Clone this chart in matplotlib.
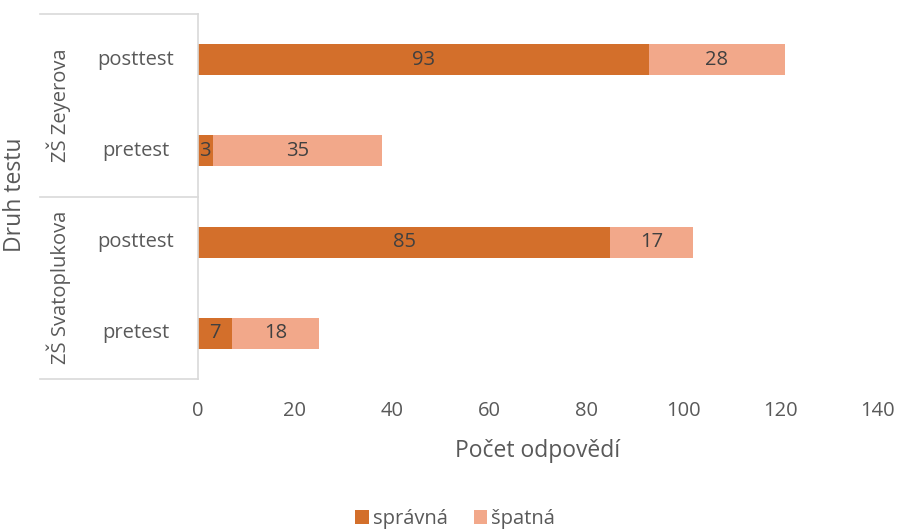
import matplotlib
matplotlib.use("Agg")
import matplotlib.pyplot as plt
import matplotlib.transforms as mtransforms
from matplotlib.lines import Line2D

plt.rcParams['font.family'] = ['Open Sans', 'DejaVu Sans']

groups = ["ZŠ Svatoplukova", "ZŠ Zeyerova"]
categories = ["pretest", "posttest", "pretest", "posttest"]  # bottom to top
spravna = [7, 85, 3, 93]
spatna = [18, 17, 35, 28]
series_names = ["správná", "špatná"]
xticks = [0, 20, 40, 60, 80, 100, 120, 140]

c1 = "#D36F2B"
c2 = "#F2A88A"
txt = "#595959"
lab = "#404040"
fs = 14.5

fig = plt.figure(figsize=(9.01, 5.30), dpi=100)
ax = fig.add_axes([198/901, 1-379/530, (877-198)/901, (379-14)/530])

y = list(range(len(categories)))
h = 0.34
ax.barh(y, spravna, height=h, color=c1, label=series_names[0])
ax.barh(y, spatna, left=spravna, height=h, color=c2, label=series_names[1])

for i in y:
    ax.text(spravna[i]/2, i, str(spravna[i]), ha='center', va='center', fontsize=fs, color=lab)
    ax.text(spravna[i] + spatna[i]/2, i, str(spatna[i]), ha='center', va='center', fontsize=fs, color=lab)

ax.set_xlim(0, 140)
ax.set_ylim(-0.5, len(categories) - 0.5)
ax.set_xticks(xticks)
ax.tick_params(axis='x', length=0, pad=16, labelsize=fs, labelcolor=txt)
ax.set_yticks([])
for s in ['top', 'right', 'bottom']:
    ax.spines[s].set_visible(False)
ax.spines['left'].set_color('#D9D9D9')
ax.spines['left'].set_linewidth(1.2)

ax.set_xlabel("Počet odpovědí", fontsize=16.5, color=txt, labelpad=13)

trans = mtransforms.blended_transform_factory(fig.transFigure, ax.transData)
for i, c in enumerate(categories):
    ax.text(136/901, i, c, transform=trans, ha='center', va='center', fontsize=fs, color=txt)

for g, gi in enumerate(groups):
    ax.text(59/901, 2*g + 0.5, gi, transform=trans, ha='center', va='center',
            rotation=90, fontsize=fs, color=txt)

for yy in [-0.5, 1.5, 3.5]:
    ax.add_line(Line2D([40/901, 198/901], [yy, yy], transform=trans, color='#D9D9D9',
                       lw=1.2, clip_on=False))

fig.text(15/901, 1-195/530, "Druh testu", rotation=90, ha='center', va='center',
         fontsize=16.5, color=txt)

leg = fig.legend(loc='center', bbox_to_anchor=(455/901, 1-519/530), ncol=2, frameon=False,
                 fontsize=fs, handlelength=0.65, handleheight=0.65, handletextpad=0.2,
                 columnspacing=1.3, borderaxespad=0)
for t in leg.get_texts():
    t.set_color(txt)

fig.savefig("out.png", dpi=100)
